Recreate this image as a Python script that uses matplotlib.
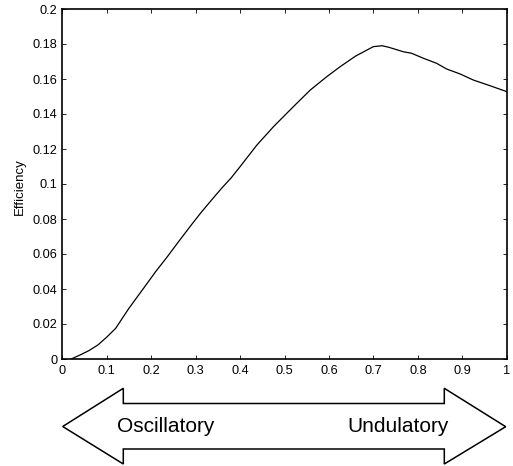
import numpy as np
import matplotlib
matplotlib.use("Agg")
import matplotlib.pyplot as plt
from matplotlib.patches import Polygon
from matplotlib.ticker import FormatStrFormatter

plt.rcParams['font.family'] = ['Liberation Sans', 'DejaVu Sans']

# efficiency curve
eff_x = [0.02, 0.04, 0.06, 0.08, 0.10, 0.12, 0.15, 0.18, 0.21, 0.235, 0.26,
         0.29, 0.31, 0.336, 0.36, 0.38, 0.40, 0.438, 0.475, 0.52, 0.558,
         0.595, 0.625, 0.66, 0.70, 0.72, 0.735, 0.767, 0.786, 0.813, 0.842,
         0.865, 0.895, 0.925, 0.962, 1.0]
eff_y = [0.0, 0.0023, 0.0048, 0.008, 0.0125, 0.0175, 0.029, 0.0394, 0.0499,
         0.058, 0.0665, 0.0765, 0.083, 0.0909, 0.098, 0.1035, 0.1099, 0.1223,
         0.1327, 0.1442, 0.1537, 0.1613, 0.167, 0.1731, 0.1785, 0.179, 0.1781,
         0.1756, 0.1747, 0.1718, 0.169, 0.1657, 0.1629, 0.1594, 0.1562, 0.1528]

x_ticks = np.arange(0, 1.01, 0.1)
y_ticks = np.arange(0, 0.201, 0.02)
y_label = "Efficiency"
arrow_labels = ["Oscillatory", "Undulatory"]

W, H = 513, 466
fig = plt.figure(figsize=(W / 100, H / 100), dpi=100)

# axes box in pixels: left 62.3, right 506.7, top 9, bottom 359
ax = fig.add_axes([62.3 / W, 1 - 359 / H, 444.4 / W, 350 / H])
ax.plot(eff_x, eff_y, color='black', linewidth=0.9)

ax.set_xlim(0, 1)
ax.set_ylim(0, 0.2)
ax.set_xticks(x_ticks)
ax.set_yticks(y_ticks)
ax.xaxis.set_major_formatter(FormatStrFormatter('%g'))
ax.yaxis.set_major_formatter(FormatStrFormatter('%g'))
ax.tick_params(direction='in', top=True, right=True, length=3, width=0.6,
               labelsize=9.2, color='black')
ax.tick_params(axis='x', pad=4)
ax.tick_params(axis='y', pad=3.5)
for sp in ax.spines.values():
    sp.set_linewidth(1.2)

fig.text(20 / W, 1 - 187 / H, y_label, rotation=90, ha='center', va='center',
         fontsize=9.5)

# double-headed block arrow below the axis (pixel coords, y down)
pts = [(62.7, 426.5), (123.3, 388.3), (123.3, 403.5), (444.3, 403.5),
       (444.3, 388.3), (505.7, 426.7), (444.3, 464), (444.3, 449),
       (123.3, 449), (123.3, 464)]
pts = [(px / W, 1 - py / H) for px, py in pts]
fig.patches.append(Polygon(pts, closed=True, facecolor='white',
                           edgecolor='black', linewidth=1.1,
                           transform=fig.transFigure))

fig.text(117.3 / W, 1 - 431.7 / H, arrow_labels[0], ha='left', va='baseline',
         fontsize=15)
fig.text(347.3 / W, 1 - 431.7 / H, arrow_labels[1], ha='left', va='baseline',
         fontsize=15)

fig.savefig("out.png", dpi=100, facecolor='white')
